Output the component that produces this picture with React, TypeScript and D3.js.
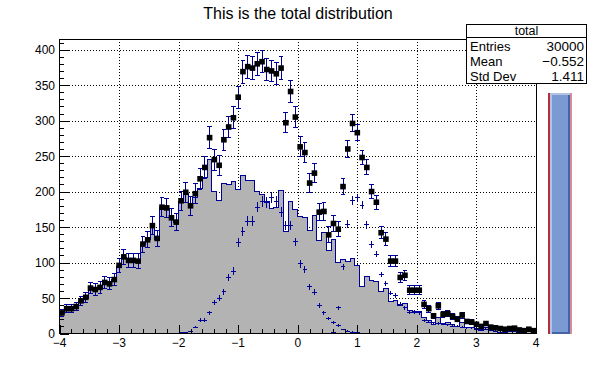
import React from 'react';
import * as d3 from 'd3';

const xDomain = [-4, 4];
const nBins = 100;
const yMax = 415;

const mainCounts = [
  28, 35, 35, 38, 45, 50, 64, 61, 65, 72,
  69, 76, 95, 107, 103, 103, 101, 126, 132, 152,
  133, 178, 176, 163, 156, 186, 197, 177, 192, 205,
  220, 245, 200, 187, 211, 210, 214, 203, 223, 216,
  215, 200, 196, 186, 176, 178, 201, 144, 186, 175,
  165, 163, 145, 166, 131, 142, 117, 133, 100, 104,
  102, 105, 96, 66, 80, 75, 73, 59, 64, 45,
  47, 40, 42, 32, 31, 31, 23, 19, 12, 23,
  14, 16, 13, 10, 16, 9, 8, 6, 4, 8,
  4, 3, 2, 2, 3, 3, 2, 1, 3, 1,
];

const signal1 = [
  0, 0, 0, 0, 0, 0, 0, 0, 0, 0,
  0, 0, 0, 0, 0, 0, 0, 0, 0, 0,
  0, 0, 0, 0, 0.3, 0.9, 1.5, 3, 9, 19,
  19, 29, 44, 50, 59, 79, 88, 128, 144, 158,
  158, 178, 186, 185, 192, 186, 171, 152, 152, 129,
  98, 90, 66, 58, 39, 29, 21, 16, 11, 5.7,
  3.3, 2.1, 0.9, 0.3, 0, 0, 0, 0, 0, 0,
  0, 0, 0, 0, 0, 0, 0, 0, 0, 0,
  0, 0, 0, 0, 0, 0, 0, 0, 0, 0,
  0, 0, 0, 0, 0, 0, 0, 0, 0, 0,
];

const signal2 = [
  0, 0, 0, 0, 0, 0, 0, 0, 0, 0,
  0, 0, 0, 0, 0, 0, 0, 0, 0, 0,
  0, 0, 0, 0, 0, 0, 0, 0, 0, 0,
  0, 0, 0, 0, 0, 0, 0, 0, 0, 0,
  0, 0, 0, 0, 0, 0, 0, 0, 0, 0,
  0, 0, 0, 0, 0, 0, 0.4, 2, 36, 94,
  154, 187, 191, 181, 153, 125, 112, 83, 70, 57,
  54, 41, 36, 30, 30, 29, 18, 16, 15, 14,
  13, 12, 10, 10, 9, 8, 8, 7, 6, 6,
  5, 5, 5, 4, 4, 4, 3, 3, 3, 3,
];

const totalCounts = [
  29, 35, 35, 38, 46, 51, 64, 62, 65, 72,
  70, 76, 96, 108, 103, 103, 102, 126, 132, 152,
  134, 178, 177, 163, 157, 187, 199, 180, 197, 218,
  234, 276, 245, 237, 273, 291, 304, 333, 369, 376,
  374, 380, 383, 372, 370, 366, 374, 297, 341, 305,
  263, 255, 212, 226, 171, 172, 139, 155, 147, 207,
  260, 296, 283, 248, 234, 200, 185, 142, 133, 102,
  102, 79, 82, 61, 61, 61, 41, 35, 25, 39,
  27, 28, 24, 20, 26, 17, 16, 13, 10, 14,
  9, 8, 7, 6, 7, 7.5, 5, 4, 6, 4,
];

const xTickValues = [-4, -3, -2, -1, 0, 1, 2, 3, 4];
const yTickValues = [0, 50, 100, 150, 200, 250, 300, 350, 400];
const titleText = 'This is the total distribution';
const statsName = 'total';
const statsLabels = ['Entries', 'Mean', 'Std Dev'];
const statsValues = ['30000', '\u22120.552', '1.411'];

const FONT = '"Liberation Sans", Arial, Helvetica, sans-serif';
const BLUE = '#000099';

function fmt(v: number) {
  return v < 0 ? '\u2212' + Math.abs(v) : String(v);
}

export default function App() {
  const W = 596, H = 372;
  const left = 59.5, right = 536, top = 39, bottom = 333.5;
  const x = d3.scaleLinear().domain(xDomain).range([left, right]);
  const y = d3.scaleLinear().domain([0, yMax]).range([bottom, top]);
  const bw = (xDomain[1] - xDomain[0]) / nBins;
  const lo = (i: number) => xDomain[0] + i * bw;
  const hi = (i: number) => xDomain[0] + (i + 1) * bw;
  const mid = (i: number) => xDomain[0] + (i + 0.5) * bw;

  // Step histogram points
  const stepPts: [number, number][] = [];
  mainCounts.forEach((v, i) => {
    stepPts.push([lo(i), v]);
    stepPts.push([hi(i), v]);
  });
  const area = d3.area<[number, number]>()
    .x(d => x(d[0]))
    .y0(y(0))
    .y1(d => y(d[1]));
  const line = d3.line<[number, number]>()
    .x(d => x(d[0]))
    .y(d => y(d[1]));
  const outline: [number, number][] = [[xDomain[0], 0], ...stepPts, [xDomain[1], 0]];

  const xMinor = d3.range(-4, 4.0001, 0.2);
  const yMinor = d3.range(0, yMax, 10);

  const weighted = (vals: number[], w: number) =>
    vals.map((v, i) => ({ i, v, e: Math.sqrt(w * v) })).filter(d => d.v > 0);

  const s1Pts = weighted(signal1, 0.3);
  const s2Pts = weighted(signal2, 0.2);
  const totPts = totalCounts.map((v, i) => ({
    i, v,
    e: Math.sqrt(mainCounts[i] + 0.3 * signal1[i] + 0.2 * signal2[i]),
  }));

  const halfBin = (x(bw) - x(0)) / 2;
  const ms = 5.6;

  return (
    <svg width={W} height={H} style={{ position: 'absolute', left: 0, top: 0, background: '#fff' }}
      fontFamily={FONT}>
      <rect x={0} y={0} width={W} height={H} fill="#fff" />
      {/* title */}
      <text x={298} y={18.5} fontSize={16} textAnchor="middle" fill="#000">{titleText}</text>

      {/* grid */}
      <g stroke="#000" strokeWidth={1} strokeDasharray="1,2" shapeRendering="crispEdges">
        {xTickValues.slice(1, -1).map(t => (
          <line key={'gx' + t} x1={Math.round(x(t)) + 0.5} x2={Math.round(x(t)) + 0.5} y1={top} y2={bottom} />
        ))}
        {yTickValues.slice(1).map(t => (
          <line key={'gy' + t} x1={left} x2={right} y1={Math.round(y(t)) + 0.5} y2={Math.round(y(t)) + 0.5} />
        ))}
      </g>

      {/* main histogram */}
      <path d={area(stepPts) || ''} fill="#b3b3b3" />
      <path d={line(outline) || ''} fill="none" stroke={BLUE} strokeWidth={1} shapeRendering="crispEdges" />

      {/* signals as error crosses */}
      <g stroke={BLUE} strokeWidth={1} shapeRendering="crispEdges">
        {[...s1Pts, ...s2Pts].map((d, k) => (
          <g key={'s' + k}>
            <line x1={x(lo(d.i))} x2={x(hi(d.i))} y1={y(d.v)} y2={y(d.v)} />
            {d.e * 0.71 > 0.5 && (
              <line x1={x(mid(d.i))} x2={x(mid(d.i))} y1={y(d.v - d.e)} y2={y(Math.min(d.v + d.e, yMax))} />
            )}
          </g>
        ))}
      </g>

      {/* total with error bars */}
      <g stroke={BLUE} strokeWidth={1} shapeRendering="crispEdges">
        {totPts.map(d => {
          const cx = x(mid(d.i));
          const y1 = y(Math.max(d.v - d.e, 0));
          const y2 = y(Math.min(d.v + d.e, yMax));
          return (
            <g key={'t' + d.i}>
              <line x1={x(lo(d.i))} x2={x(hi(d.i))} y1={y(d.v)} y2={y(d.v)} />
              <line x1={cx} x2={cx} y1={y1} y2={y2} />
              <line x1={cx - halfBin} x2={cx + halfBin} y1={y1} y2={y1} />
              <line x1={cx - halfBin} x2={cx + halfBin} y1={y2} y2={y2} />
            </g>
          );
        })}
      </g>
      <g fill="#000">
        {totPts.map(d => (
          <rect key={'m' + d.i} x={x(mid(d.i)) - ms / 2} y={y(d.v) - ms / 2} width={ms} height={ms} />
        ))}
      </g>

      {/* frame */}
      <rect x={left} y={top} width={right - left} height={bottom - top} fill="none" stroke="#000" strokeWidth={1} shapeRendering="crispEdges" />

      {/* axes ticks */}
      <g stroke="#000" strokeWidth={1} shapeRendering="crispEdges">
        {xMinor.map((t, k) => {
          const major = Math.abs(t - Math.round(t)) < 1e-6;
          const px = Math.round(x(t)) + 0.5;
          return <line key={'xt' + k} x1={px} x2={px} y1={bottom} y2={bottom - (major ? 9 : 4.5)} />;
        })}
        {yMinor.map((t, k) => {
          const major = t % 50 === 0;
          const py = Math.round(y(t)) + 0.5;
          return <line key={'yt' + k} x1={left} x2={left + (major ? 9 : 4.5)} y1={py} y2={py} />;
        })}
      </g>
      <g fontSize={12} fill="#000">
        {xTickValues.map(t => (
          <text key={'xl' + t} x={x(t)} y={bottom + 13.5} textAnchor="middle">{fmt(t)}</text>
        ))}
        {yTickValues.map(t => (
          <text key={'yl' + t} x={55} y={y(t) + 4.5} textAnchor="end">{t}</text>
        ))}
      </g>

      {/* stats box */}
      <g>
        <rect x={466.5} y={24.5} width={120} height={59} fill="#fff" stroke="#000" strokeWidth={1} shapeRendering="crispEdges" />
        <line x1={466.5} x2={586.5} y1={37.5} y2={37.5} stroke="#000" strokeWidth={1} shapeRendering="crispEdges" />
        <text x={526.5} y={35} fontSize={12.5} textAnchor="middle">{statsName}</text>
        {statsLabels.map((s, k) => (
          <text key={'sl' + k} x={470} y={51 + k * 15} fontSize={13}>{s}</text>
        ))}
        {statsValues.map((s, k) => (
          <text key={'sv' + k} x={584} y={51 + k * 15} fontSize={13.5} textAnchor="end">{s}</text>
        ))}
      </g>

      {/* slider */}
      <g shapeRendering="crispEdges">
        <rect x={548} y={93} width={24} height={240.5} fill="#b03040" />
        <rect x={570} y={93} width={2} height={240.5} fill="#d98a98" />
        <rect x={550} y={93} width={20} height={240.5} fill="#b6c2e2" />
        <rect x={552} y={95} width={18} height={238.5} fill="#4464aa" />
        <rect x={552} y={95} width={16} height={236.5} fill="#7b99d3" />
      </g>
    </svg>
  );
}
